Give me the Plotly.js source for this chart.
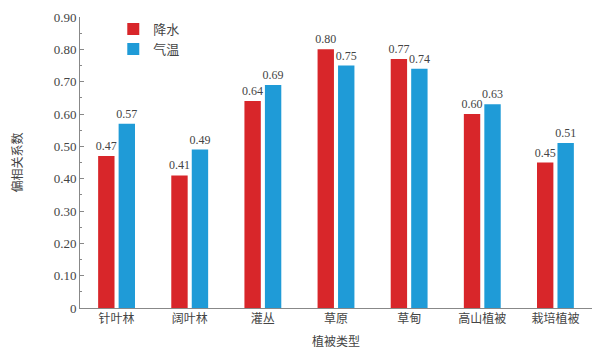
<!DOCTYPE html>
<html>
<head>
<meta charset="utf-8">
<script src="https://cdn.plot.ly/plotly-3.0.1.min.js"></script>
<style>
  html, body { margin: 0; padding: 0; background: #fff; }
  #chart { width: 601px; height: 360px; }
</style>
</head>
<body>
<div id="chart"></div>
<script>
// Vegetation types and partial correlation coefficients
const vegTypes = ['针叶林', '阔叶林', '灌丛', '草原', '草甸', '高山植被', '栽培植被'];
const precipR = [0.47, 0.41, 0.64, 0.80, 0.77, 0.60, 0.45];
const tempR = [0.57, 0.49, 0.69, 0.75, 0.74, 0.63, 0.51];
const yTickVals = [0, 0.1, 0.2, 0.3, 0.4, 0.5, 0.6, 0.7, 0.8, 0.9];
const yTickText = ['0', '0.10', '0.20', '0.30', '0.40', '0.50', '0.60', '0.70', '0.80', '0.90'];

const numFont = 'Liberation Serif, Noto Sans CJK SC, serif';
const cjkFont = 'Noto Sans CJK SC, Liberation Serif, sans-serif';

const barTrace = (name, vals, color) => ({
  type: 'bar',
  name: name,
  x: vegTypes,
  y: vals,
  marker: { color: color },
  text: vals.map(v => v.toFixed(2)),
  textposition: 'outside',
  constraintext: 'none',
  cliponaxis: false,
  textfont: { family: numFont, size: 12, color: '#444' }
});

const data = [
  barTrace('降水', precipR, '#d8262a'),
  barTrace('气温', tempR, '#1f9bd7')
];

const layout = {
  width: 601,
  height: 360,
  margin: { l: 80, r: 9, t: 17, b: 52 },
  paper_bgcolor: '#fff',
  plot_bgcolor: '#fff',
  barmode: 'group',
  bargap: 0.44,
  bargroupgap: 0.2,
  showlegend: true,
  legend: {
    x: 0.065, y: 1.01, xanchor: 'left', yanchor: 'top',
    bgcolor: 'rgba(0,0,0,0)',
    font: { family: cjkFont, size: 13, color: '#444' },
    itemwidth: 30,
    tracegroupgap: 6
  },
  xaxis: {
    type: 'category',
    range: [-0.5, 6.5],
    showline: true, linecolor: '#888', linewidth: 1,
    ticks: '', showgrid: false, zeroline: false,
    tickfont: { family: cjkFont, size: 12, color: '#444' },
    title: { text: '植被类型', font: { family: cjkFont, size: 12, color: '#444' }, standoff: 12 }
  },
  yaxis: {
    range: [0, 0.9],
    tickvals: yTickVals, ticktext: yTickText,
    showline: true, linecolor: '#888', linewidth: 1,
    ticks: 'inside', ticklen: 4, tickcolor: '#888',
    minor: { ticks: 'inside', ticklen: 2, tickcolor: '#888', dtick: 0.05 },
    showgrid: false, zeroline: false,
    tickfont: { family: numFont, size: 13, color: '#444' },
    title: { text: '偏相关系数', font: { family: cjkFont, size: 12, color: '#444' }, standoff: 28 }
  }
};

Plotly.newPlot('chart', data, layout, { displayModeBar: false, staticPlot: true });
</script>
</body>
</html>
